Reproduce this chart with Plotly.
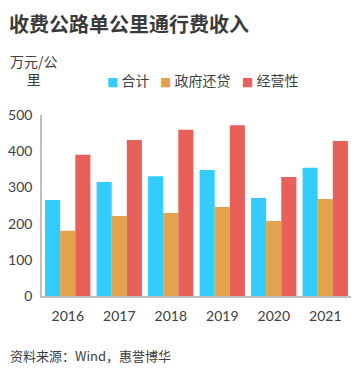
import plotly.graph_objects as go

years = ["2016", "2017", "2018", "2019", "2020", "2021"]
total = [265, 315, 331, 348, 271, 354]
gov_loan = [180, 221, 229, 246, 207, 268]
operating = [390, 431, 459, 472, 329, 428]

series_names = ["合计", "政府还贷", "经营性"]
colors = ["#33CCFF", "#E3A24C", "#E8605A"]
yticks = [0, 100, 200, 300, 400, 500]

FONT = "Lato, 'Noto Sans CJK SC', sans-serif"
CJK = "'Noto Sans CJK SC', sans-serif"
TXT = "#404040"

OFF = 8  # page body margin
W, H = 360 - OFF, 381 - OFF
ML, MR, MT, MB = 42 - OFF, 9, 115 - OFF, 85
pw = W - ML - MR
ph = H - MT - MB


def px(x):
    return (x - OFF - ML) / pw


def py(y):
    return (H - MB - (y - OFF)) / ph


fig = go.Figure()
for name, vals, c in zip(series_names, [total, gov_loan, operating], colors):
    fig.add_trace(go.Bar(x=years, y=vals, name=name, marker=dict(color=c, line=dict(width=0)),
                         showlegend=False))

legend_x = [105, 158, 240]
annotations = [
    dict(text="<b>收费公路单公里通行费收入</b>", x=px(8), y=py(8), xanchor="left", yanchor="top",
         font=dict(family=CJK, size=20, color="#3a3a3a"), borderpad=0),
    dict(text="万元/公<br>里", x=px(8), y=py(70), xanchor="left", yanchor="middle", align="center",
         font=dict(family=CJK, size=14, color=TXT)),
    dict(text="资料来源：Wind，惠誉博华", x=px(8), y=py(355), xanchor="left", yanchor="middle",
         font=dict(family=CJK, size=13, color=TXT)),
]
for name, c, lx in zip(series_names, colors, legend_x):
    annotations.append(dict(
        text=f"<span style='color:{c};font-family:DejaVu Sans;font-size:12px'>■</span> {name}",
        x=px(lx), y=py(80), xanchor="left", yanchor="middle",
        font=dict(family=CJK, size=14, color=TXT)))
for a in annotations:
    a.update(xref="paper", yref="paper", showarrow=False)

fig.update_layout(
    width=W, height=H,
    margin=dict(l=ML, r=MR, t=MT, b=MB),
    paper_bgcolor="white", plot_bgcolor="white",
    barmode="group", bargap=0.12, bargroupgap=0,
    font=dict(family=FONT, size=14, color=TXT),
    showlegend=False,
    xaxis=dict(showline=True, linecolor="#BFBFBF", linewidth=1.5, showgrid=False, ticks="",
               tickfont=dict(family=FONT, size=14, color=TXT), ticklabelstandoff=6,
               automargin=False, fixedrange=True),
    yaxis=dict(range=[0, 500], tickvals=yticks, showline=True, linecolor="#BFBFBF", linewidth=1.5,
               showgrid=False, zeroline=False, ticks="", ticklabelstandoff=5,
               tickfont=dict(family=FONT, size=14, color=TXT), automargin=False, fixedrange=True),
    annotations=annotations,
)

fig.write_html("out.html")
